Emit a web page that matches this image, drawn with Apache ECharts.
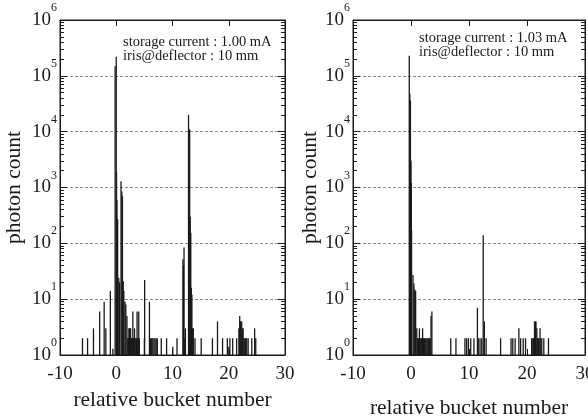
<!DOCTYPE html>
<html><head><meta charset="utf-8">
<script src="https://cdn.jsdelivr.net/npm/echarts@6/dist/echarts.min.js"></script>
<style>html,body{margin:0;padding:0;background:#fff}#c{width:588px;height:416px}</style>
</head><body><div id="c"></div>
<script>
// ---- data ----
const xTicks = [-10, 0, 10, 20, 30];
const leftBucket = [-6.0,-5.1,-4.05,-2.95,-2.15,-1.85,-1.05,-0.6,-0.2,0.0,0.05,0.12,0.25,0.45,0.6,0.85,1.0,1.1,1.25,1.35,1.55,1.7,1.9,
  2.05,2.15,2.25,2.35,2.45,2.55,2.65,2.75,2.85,2.95,3.05,3.15,3.25,3.35,3.5,3.6,3.7,3.8,3.9,4.0,4.1,
  5.0,5.05,5.9,6.1,6.3,6.5,6.7,6.9,7.1,7.3,8.0,8.95,10.05,10.8,
  11.85,11.95,12.05,12.15,12.3,12.85,12.95,13.05,13.15,13.25,13.35,13.45,13.55,13.7,14.0,15.1,17.1,18.0,18.9,19.75,19.9,20.2,20.7,
  21.4,21.8,21.95,22.05,22.15,22.3,22.45,22.55,22.7,22.85,23.0,23.2,23.45,24.1,24.6,24.8];
const leftCount = [2,2,3,6,9,3,14,1.3,148000,220000,1900,600,270,24,20,1300,850,700,21,14,9,8,5,
  2,2,3,3,3,3,2,2,2,6,2,2,3,2,2,2,6,2,2,6,2,
  2,22,9,2,2,2,2,2,2,2,2,2,1.4,2,
  52,40,84,2,3,20000,10700,11000,300,155,16,12,3,3,2,2,2,4,2,2,1.4,2,2,
  2,3,5,4,4,4,3,3,2,2,2,2,2,2,3,2];
const rightBucket = [-0.3,-0.2,-0.1,0.0,0.05,0.1,0.35,0.5,0.65,0.8,1.0,1.15,1.3,1.45,1.6,1.75,1.85,2.0,2.15,2.3,2.45,2.6,2.75,2.9,3.05,3.2,3.3,3.45,3.6,
  6.85,7.75,9.3,9.6,9.9,10.3,10.85,11.45,11.6,11.9,12.2,12.45,12.65,12.95,
  15.45,17.25,17.55,17.95,18.6,18.9,19.35,19.75,20.8,21.0,21.15,21.3,21.45,21.55,21.7,21.85,21.95,22.1,22.25,22.4,22.55,22.9,23.7];
const rightCount = [228000,48000,36000,3000,1200,170,27,19,15,14,3,2,2,3,2,2,2,3,2,2,2,2,2,2,2,2,2,5,6,
  2,2,2,2,2,2,2,7,2,2,2,140,4,2,
  2,2,2,2,3,2,2,2,2,2,2,4,4,4,3,2,2,2,3,2,2,2,2];
const leftNote = ['storage current : 1.00 mA', 'iris@deflector : 10 mm'];
const rightNote = ['storage current : 1.03 mA', 'iris@deflector : 10 mm'];
const xName = 'relative bucket number';
const yName = 'photon count';

// ---- chart ----
const FONT = 'Liberation Serif';
const INK = '#1a1a1a';
const minorVals = [];
for (let d = 0; d < 6; d++) for (let k = 2; k <= 9; k++) minorVals.push(k * Math.pow(10, d));
const pairs = (xs, ys) => xs.map((x, i) => [x, ys[i]]);
const supLabel = v => '{b|10}{s|' + Math.round(Math.log10(v)) + '}';

const grids = [
  {left: 60, top: 20, width: 225, height: 335, xGap: 33, yGap: 35},
  {left: 353, top: 20, width: 232, height: 335, xGap: 42, yGap: 25}
];
const xAxes = [], yAxes = [];
grids.forEach((g, gi) => {
  const xBase = {gridIndex: gi, type: 'value', min: xTicks[0], max: xTicks[xTicks.length - 1], interval: 10,
    axisLine: {show: true, onZero: false, lineStyle: {color: INK, width: 1}},
    axisTick: {show: true, inside: true, length: 6, lineStyle: {color: INK}},
    splitLine: {show: false}};
  xAxes.push(Object.assign({}, xBase, {position: 'bottom',
    axisLabel: {show: true, fontFamily: FONT, fontSize: 19, color: INK, margin: 10},
    name: xName, nameLocation: 'middle', nameGap: g.xGap,
    nameTextStyle: {fontFamily: FONT, fontSize: 21.5, color: INK}}));
  xAxes.push(Object.assign({}, xBase, {position: 'top', axisLabel: {show: false}}));
  const yBase = {gridIndex: gi, type: 'log', logBase: 10, min: 1, max: 1e6, offset: 0,
    splitLine: {show: false}, axisLabel: {show: false}};
  yAxes.push(Object.assign({}, yBase, {position: 'left',
    axisLine: {show: true, onZero: false, lineStyle: {color: INK}},
    axisTick: {show: true, inside: true, length: 7, lineStyle: {color: INK}},
    splitLine: {show: true, lineStyle: {color: '#888', type: [3, 2], width: 1}},
    axisLabel: {show: true, margin: 3, formatter: supLabel,
      rich: {b: {fontFamily: FONT, fontSize: 19, color: INK, lineHeight: 36},
             s: {fontFamily: FONT, fontSize: 12, color: INK, lineHeight: 12, verticalAlign: 'top'}}},
    name: yName, nameLocation: 'middle', nameGap: g.yGap,
    nameTextStyle: {fontFamily: FONT, fontSize: 21.5, color: INK}}));
  yAxes.push(Object.assign({}, yBase, {position: 'left', axisLine: {show: false, onZero: false},
    axisTick: {show: true, inside: true, length: 4, customValues: minorVals, lineStyle: {color: INK}}}));
  yAxes.push(Object.assign({}, yBase, {position: 'right',
    axisLine: {show: true, onZero: false, lineStyle: {color: INK}},
    axisTick: {show: true, inside: true, length: 7, lineStyle: {color: INK}}}));
  yAxes.push(Object.assign({}, yBase, {position: 'right', axisLine: {show: false, onZero: false},
    axisTick: {show: true, inside: true, length: 4, customValues: minorVals, lineStyle: {color: INK}}}));
});

function noteText(lines, x, y0, dy) {
  return lines.map((t, i) => ({type: 'text', x: x, y: y0 + i * dy, silent: true,
    style: {text: t, fontFamily: FONT, fontSize: 14.5, fill: INK, verticalAlign: 'middle', align: 'left'}}));
}

const chart = echarts.init(document.getElementById('c'), null, {renderer: 'canvas'});
chart.setOption({
  animation: false,
  backgroundColor: '#fff',
  grid: grids.map(g => ({left: g.left, top: g.top, width: g.width, height: g.height, containLabel: false, outerBoundsMode: 'none',
    show: true, borderColor: INK, borderWidth: 1, backgroundColor: 'transparent'})),
  xAxis: xAxes,
  yAxis: yAxes,
  series: [
    {type: 'bar', xAxisIndex: 0, yAxisIndex: 0, data: pairs(leftBucket, leftCount), barWidth: 1.3, itemStyle: {color: INK}, silent: true},
    {type: 'bar', xAxisIndex: 2, yAxisIndex: 4, data: pairs(rightBucket, rightCount), barWidth: 1.3, itemStyle: {color: INK}, silent: true}
  ],
  graphic: noteText(leftNote, 123, 42, 14).concat(noteText(rightNote, 419, 38, 14))
});
</script></body></html>
